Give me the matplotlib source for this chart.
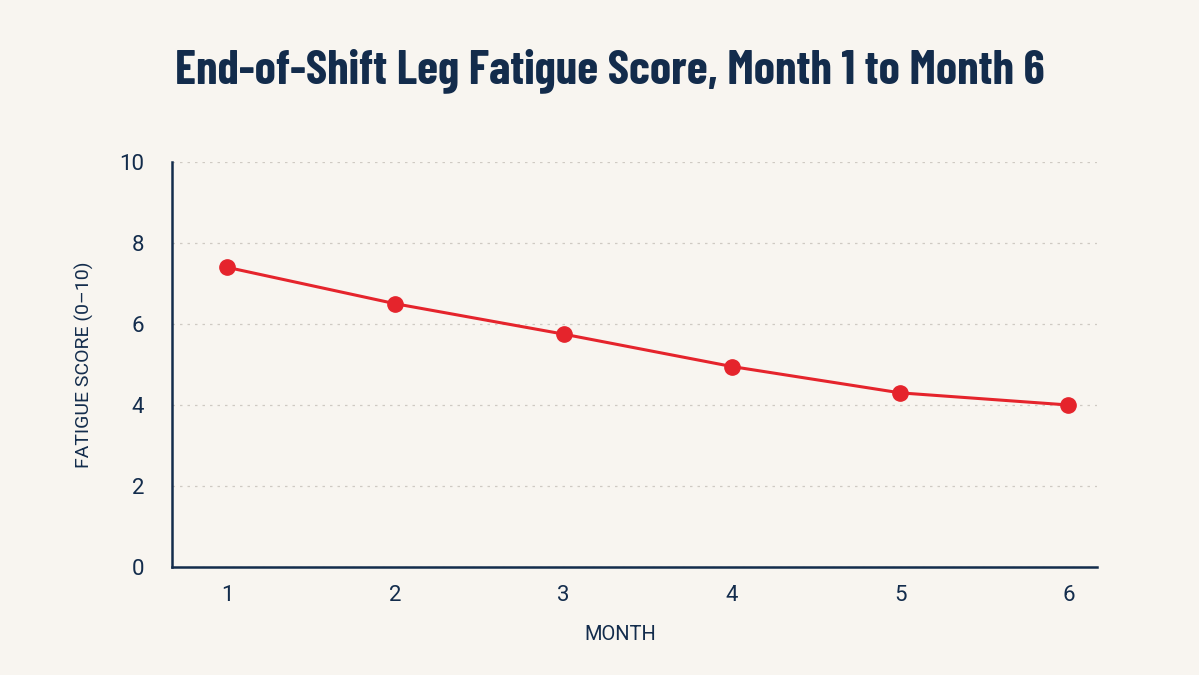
import matplotlib.pyplot as plt

months = [1, 2, 3, 4, 5, 6]
fatigue = [7.4, 6.5, 5.75, 4.95, 4.3, 4.0]
yticks = [0, 2, 4, 6, 8, 10]

bg = '#f8f5f0'
navy = '#132c4c'
red = '#e5242c'

plt.rcParams['font.family'] = ['Roboto', 'DejaVu Sans']

fig = plt.figure(figsize=(11.99, 6.75), dpi=100, facecolor=bg)
ax = fig.add_axes([0.1435, 0.16, 0.7715, 0.6])
ax.set_facecolor(bg)

ax.plot(months, fatigue, color=red, linewidth=2.2, marker='o', markersize=11, zorder=3)

ax.set_xlim(0.673, 6.17)
ax.set_ylim(0, 10)
ax.set_xticks(months)
ax.set_yticks(yticks)
ax.tick_params(length=0, labelsize=16, colors=navy)
ax.tick_params(axis='x', pad=13)
ax.tick_params(axis='y', pad=20)

ax.grid(axis='y', linestyle=(0, (2, 4)), color='#cfcac3', linewidth=0.9)
ax.grid(axis='x', visible=False)
for s in ['top', 'right']:
    ax.spines[s].set_visible(False)
for s in ['left', 'bottom']:
    ax.spines[s].set_color(navy)
    ax.spines[s].set_linewidth(1.8)

ax.set_xlabel('MONTH', fontsize=14.5, color=navy, labelpad=12)
ax.xaxis.set_label_coords(0.485, -0.142)
ax.set_ylabel('FATIGUE SCORE (0\u201310)', fontsize=14, color=navy, labelpad=18)

# title: condensed bold face, a bit right of centre like the reference
fig.text(0.509, 0.896, 'End-of-Shift Leg Fatigue Score, Month 1 to Month 6',
         ha='center', va='center', fontsize=34.5, fontweight='bold', color=navy,
         family=['Barlow Condensed', 'Roboto Condensed', 'Roboto'])

fig.savefig('out.png', dpi=100, facecolor=bg)
